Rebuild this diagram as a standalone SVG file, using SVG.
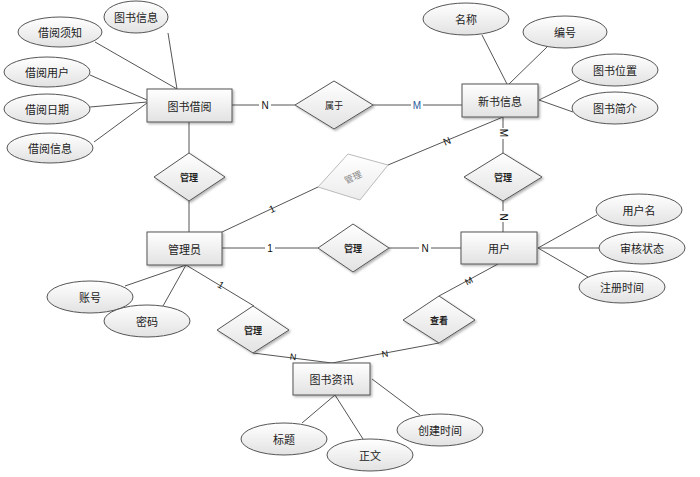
<svg xmlns="http://www.w3.org/2000/svg" width="700" height="477" viewBox="0 0 700 477">
<defs>
<linearGradient id="g" x1="0" y1="0" x2="0" y2="1"><stop offset="0" stop-color="#ffffff"/><stop offset="1" stop-color="#e2e2e2"/></linearGradient>
<linearGradient id="gf" x1="0" y1="0" x2="0" y2="1"><stop offset="0" stop-color="#ffffff"/><stop offset="1" stop-color="#ececec"/></linearGradient>
<filter id="sh" x="-20%" y="-20%" width="140%" height="150%"><feDropShadow dx="1.5" dy="1.5" stdDeviation="1" flood-color="#000" flood-opacity="0.3"/></filter>
</defs>
<style>
.ent{fill:url(#g);stroke:#555;stroke-width:1;filter:url(#sh)}
.att{fill:url(#g);stroke:#555;stroke-width:1}
.rel{fill:url(#g);stroke:#555;stroke-width:1;filter:url(#sh)}
.fad{fill:url(#gf);stroke:#bbb;stroke-width:1}
.ln{stroke:#555;stroke-width:1;fill:none}
text{font-family:"Noto Sans CJK SC","Liberation Sans",sans-serif;text-anchor:middle;dominant-baseline:central;fill:#222}
.t{font-size:11px}
.r{font-size:9px;font-weight:bold}
.c{font-family:"Liberation Sans",sans-serif;font-size:10px;fill:#111}
</style>
<rect width="700" height="477" fill="#fff"/>
<g id="connectors">
<line class="ln" x1="232" y1="105" x2="295" y2="105"/>
<line class="ln" x1="373" y1="105" x2="462" y2="105"/>
<line class="ln" x1="189" y1="122" x2="189" y2="153"/>
<line class="ln" x1="189" y1="201" x2="189" y2="232"/>
<line class="ln" x1="222" y1="248" x2="318" y2="248"/>
<line class="ln" x1="389" y1="248" x2="461" y2="248"/>
<line class="ln" x1="222" y1="232" x2="318" y2="187"/>
<line class="ln" x1="388" y1="165" x2="503" y2="117"/>
<line class="ln" x1="503" y1="117" x2="503" y2="153"/>
<line class="ln" x1="503" y1="201" x2="503" y2="232"/>
<line class="ln" x1="186" y1="265" x2="254" y2="306"/>
<line class="ln" x1="253" y1="353" x2="332" y2="363"/>
<line class="ln" x1="439" y1="343" x2="332" y2="363"/>
<line class="ln" x1="439" y1="296" x2="498" y2="264"/>
<line class="ln" x1="168" y1="33" x2="177" y2="89"/>
<line class="ln" x1="95" y1="42" x2="177" y2="89"/>
<line class="ln" x1="90" y1="75" x2="147" y2="100"/>
<line class="ln" x1="90" y1="107" x2="147" y2="102"/>
<line class="ln" x1="94" y1="142" x2="147" y2="103"/>
<line class="ln" x1="482" y1="35" x2="507" y2="84"/>
<line class="ln" x1="547" y1="47" x2="509" y2="84"/>
<line class="ln" x1="580" y1="80" x2="539" y2="100"/>
<line class="ln" x1="573" y1="112" x2="539" y2="100"/>
<line class="ln" x1="538" y1="248" x2="597" y2="215"/>
<line class="ln" x1="538" y1="248" x2="599" y2="248"/>
<line class="ln" x1="538" y1="248" x2="588" y2="277"/>
<line class="ln" x1="186" y1="265" x2="125" y2="286"/>
<line class="ln" x1="186" y1="265" x2="163" y2="306"/>
<line class="ln" x1="335" y1="395" x2="302" y2="423"/>
<line class="ln" x1="335" y1="395" x2="363" y2="439"/>
<line class="ln" x1="372" y1="379" x2="420" y2="415"/>
<g>
<rect x="259" y="99" width="12" height="12" fill="#fff"/><text class="c" x="265" y="105">N</text>
<rect x="411" y="99" width="12" height="12" fill="#fff"/><text class="c" x="417" y="105" style="fill:#1f5a9c">M</text>
<rect x="265" y="242" width="10" height="12" fill="#fff"/><text class="c" x="270" y="248">1</text>
<rect x="419" y="242" width="12" height="12" fill="#fff"/><text class="c" x="425" y="248">N</text>
<text class="c" x="272" y="209" transform="rotate(-25 272 209)">1</text>
<text class="c" x="447" y="141" transform="rotate(-23 447 141)">N</text>
<rect x="497" y="128" width="12" height="11" fill="#fff"/><text class="c" x="503" y="133" transform="rotate(90 503 133)">M</text>
<rect x="497" y="211" width="12" height="11" fill="#fff"/><text class="c" x="503" y="217" transform="rotate(90 503 217)">N</text>
<text class="c" x="221" y="285" transform="rotate(31 221 285)">1</text>
<text class="c" x="293" y="357" transform="rotate(7 293 357)" style="font-size:9px">N</text>
<text class="c" x="385" y="354" transform="rotate(-10 385 354)" style="font-size:9px">N</text>
<text class="c" x="469" y="281" transform="rotate(-28 469 281)" style="font-size:9px">M</text>
</g>
</g>
<g id="e-borrow"><rect class="ent" x="147" y="89" width="85" height="33"/><text class="t" x="189.5" y="105.5">图书借阅</text></g>
<g id="e-newbook"><rect class="ent" x="462" y="84" width="76" height="33"/><text class="t" x="500" y="100.5">新书信息</text></g>
<g id="e-admin"><rect class="ent" x="147" y="232" width="75" height="33"/><text class="t" x="184.5" y="248.5">管理员</text></g>
<g id="e-user"><rect class="ent" x="461" y="232" width="76" height="32"/><text class="t" x="499" y="248">用户</text></g>
<g id="e-news"><rect class="ent" x="293" y="363" width="77" height="32"/><text class="t" x="331.5" y="379">图书资讯</text></g>
<g id="r-belong"><polygon class="rel" points="295,105 334,81 373,105 334,129"/><text class="r" x="334" y="105" style="font-weight:normal">属于</text></g>
<g id="r-manage1"><polygon class="rel" points="154,177 189,153 225,177 189,201"/><text class="r" x="189" y="177">管理</text></g>
<g id="r-manage2"><polygon class="fad" points="318,187 348,154 388,165 360,200"/><text class="r" x="353" y="177" transform="rotate(-25 353 177)" style="fill:#888;font-weight:normal">管理</text></g>
<g id="r-manage3"><polygon class="rel" points="318,248 353,224 389,248 353,272"/><text class="r" x="353" y="248">管理</text></g>
<g id="r-manage4"><polygon class="rel" points="464,177 503,153 542,177 503,201"/><text class="r" x="503" y="177">管理</text></g>
<g id="r-manage5"><polygon class="rel" points="217,330 253,306 289,330 253,353"/><text class="r" x="253" y="330">管理</text></g>
<g id="r-view"><polygon class="rel" points="403,320 439,296 475,320 439,343"/><text class="r" x="439" y="320">查看</text></g>
<g id="a-bookinfo"><ellipse class="att" cx="136" cy="17" rx="32" ry="16"/><text class="t" x="136" y="17">图书信息</text></g>
<g id="a-notice"><ellipse class="att" cx="60" cy="32" rx="42" ry="15"/><text class="t" x="60" y="32">借阅须知</text></g>
<g id="a-buser"><ellipse class="att" cx="47" cy="72" rx="43" ry="15"/><text class="t" x="47" y="72">借阅用户</text></g>
<g id="a-bdate"><ellipse class="att" cx="47" cy="109" rx="43" ry="15"/><text class="t" x="47" y="109">借阅日期</text></g>
<g id="a-binfo"><ellipse class="att" cx="50" cy="148" rx="43" ry="15"/><text class="t" x="50" y="148">借阅信息</text></g>
<g id="a-name"><ellipse class="att" cx="466" cy="19" rx="43" ry="16"/><text class="t" x="466" y="19">名称</text></g>
<g id="a-code"><ellipse class="att" cx="565" cy="32" rx="42" ry="16"/><text class="t" x="565" y="32">编号</text></g>
<g id="a-loc"><ellipse class="att" cx="615" cy="70" rx="43" ry="16"/><text class="t" x="615" y="70">图书位置</text></g>
<g id="a-intro"><ellipse class="att" cx="615" cy="108" rx="43" ry="16"/><text class="t" x="615" y="108">图书简介</text></g>
<g id="a-uname"><ellipse class="att" cx="639" cy="210" rx="43" ry="16"/><text class="t" x="639" y="210">用户名</text></g>
<g id="a-status"><ellipse class="att" cx="642" cy="248" rx="43" ry="16"/><text class="t" x="642" y="248">审核状态</text></g>
<g id="a-regtime"><ellipse class="att" cx="622" cy="287" rx="43" ry="16"/><text class="t" x="622" y="287">注册时间</text></g>
<g id="a-account"><ellipse class="att" cx="90" cy="297" rx="43" ry="16"/><text class="t" x="90" y="297">账号</text></g>
<g id="a-pwd"><ellipse class="att" cx="147" cy="321" rx="43" ry="16"/><text class="t" x="147" y="321">密码</text></g>
<g id="a-title"><ellipse class="att" cx="284" cy="439" rx="43" ry="16"/><text class="t" x="284" y="439">标题</text></g>
<g id="a-body"><ellipse class="att" cx="370" cy="455" rx="43" ry="16"/><text class="t" x="370" y="455">正文</text></g>
<g id="a-ctime"><ellipse class="att" cx="440" cy="430" rx="43" ry="16"/><text class="t" x="440" y="430">创建时间</text></g>
</svg>
